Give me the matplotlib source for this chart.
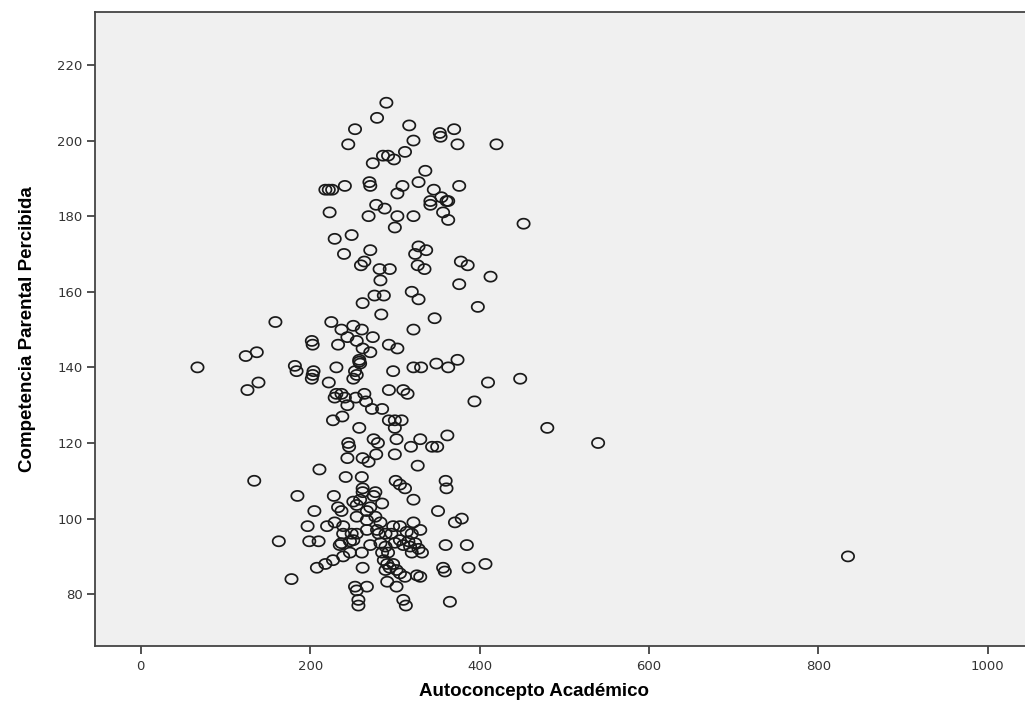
import matplotlib.pyplot as plt
import numpy as np
from matplotlib.path import Path

# Autoconcepto Academico (x) vs Competencia Parental Percibida (y)
autoconcepto = [
    67, 124, 137, 159, 139, 126, 134, 163, 178, 835, 540,
    290, 279, 253, 317, 245, 322, 286, 292, 299, 312, 274, 336,
    218, 222, 226, 241, 270, 271, 309, 303, 328,
    223, 278, 288, 269, 303, 322, 300, 229, 249, 240, 271,
    264, 260, 282, 294, 283,
    328, 337, 324, 327, 335,
    320, 328, 276, 287, 262, 284, 322,
    225, 237, 251, 261, 244, 255, 274, 233, 202, 203, 262, 271, 293, 303, 258, 258,
    353, 354, 370, 374, 420, 376, 346, 342, 342, 355, 361, 363, 357, 363, 452,
    378, 386, 413, 376, 398, 347, 374, 349,
    363, 410, 448, 394, 480, 362, 344, 350, 360, 361, 351, 379, 371,
    360, 385, 407, 387, 357, 359, 365,
    182, 184, 204, 203, 202, 231, 259, 253, 255, 251, 298, 322, 331,
    222, 293, 310, 315, 231, 237, 241, 229, 244, 264, 266, 254, 273, 285,
    227, 238, 258, 293, 300, 308, 300,
    245, 246, 275, 280, 302, 330, 319,
    244, 262, 269, 278, 300, 327, 211, 242, 261, 301, 306, 312,
    185, 228, 262, 262, 277, 275, 322, 205,
    233, 237, 251, 255, 259, 267, 271, 285,
    255, 267, 277, 283,
    197, 220, 229, 239, 239, 249, 255, 267, 279, 281, 289, 296, 298, 306, 322, 314, 320, 330,
    199, 210, 237, 235, 247, 251, 271, 261, 283, 289, 285, 292,
    300, 306, 310, 316, 318, 324, 328, 332, 320,
    227, 218, 208, 239, 247, 262, 287, 291, 294, 298, 302, 289, 306, 312, 326, 330,
    291, 302, 253, 255, 267, 257, 257, 310, 313,
]
competencia = [
    140, 143, 144, 152, 136, 134, 110, 94, 84, 90, 120,
    210, 206, 203, 204, 199, 200, 196, 196, 195, 197, 194, 192,
    187, 187, 187, 188, 189, 188, 188, 186, 189,
    181, 183, 182, 180, 180, 180, 177, 174, 175, 170, 171,
    168, 167, 166, 166, 163,
    172, 171, 170, 167, 166,
    160, 158, 159, 159, 157, 154, 150,
    152, 150, 151, 150, 148, 147, 148, 146, 147, 146, 145, 144, 146, 145, 142, 141.5,
    202, 201, 203, 199, 199, 188, 187, 184, 183, 185, 184, 184, 181, 179, 178,
    168, 167, 164, 162, 156, 153, 142, 141,
    140, 136, 137, 131, 124, 122, 119, 119, 110, 108, 102, 100, 99,
    93, 93, 88, 87, 87, 86, 78,
    140.4, 139, 139, 138, 137, 140, 141, 139, 138, 137, 139, 140, 140,
    136, 134, 134, 133, 133, 133, 132, 132, 130, 133, 131, 132, 129, 129,
    126, 127, 124, 126, 126, 126, 124,
    120, 119, 121, 120, 121, 121, 119,
    116, 116, 115, 117, 117, 114, 113, 111, 111, 110, 109, 108,
    106, 106, 108, 107, 107, 106, 105, 102,
    103, 102, 104.5, 103.6, 105, 102, 103, 104,
    100.5, 99.6, 100.5, 99,
    98, 98, 99, 98, 96, 96, 96, 97, 97, 96, 96, 96, 98, 98, 99, 96.5, 96, 97,
    94, 94, 93.5, 93, 94, 94.3, 93, 91, 93.5, 92.6, 91, 91,
    93.6, 94.3, 93, 94, 92.6, 93.5, 92, 91, 91,
    89, 88, 87, 90, 91, 87, 89, 88, 87, 88, 86.4, 86.4, 85.5, 84.6, 85, 84.6,
    83.3, 82, 82, 81, 82, 78.5, 77, 78.5, 77,
]

x_ticks = [0, 200, 400, 600, 800, 1000]
y_ticks = [80, 100, 120, 140, 160, 180, 200, 220]

# SPSS draws slightly flattened open circles
t = np.linspace(0, 2 * np.pi, 60)
ellipse = Path(np.column_stack([np.cos(t), 0.82 * np.sin(t)]), closed=True)

plt.rcParams['font.family'] = ['DejaVu Sans']

fig = plt.figure(figsize=(10.25, 7.09), dpi=100)
ax = fig.add_axes([95 / 1025, 1 - 646 / 709, 1 - 95 / 1025, (646 - 12) / 709])
ax.set_facecolor('#f0f0f0')

ax.scatter(autoconcepto, competencia, s=78, marker=ellipse, facecolors='none',
           edgecolors='#1a1a1a', linewidths=1.25)

ax.set_xlim(-54, 1044)
ax.set_ylim(66.3, 234)
ax.set_xticks(x_ticks)
ax.set_yticks(y_ticks)
ax.tick_params(direction='out', length=6, width=1.2, color='#333333',
               labelsize=9.5, labelcolor='#333333')
ax.tick_params(axis='x', pad=4)
ax.tick_params(axis='y', pad=3)

for side in ['left', 'bottom', 'top']:
    ax.spines[side].set_color('#444444')
    ax.spines[side].set_linewidth(1.3)
ax.spines['right'].set_visible(False)

label_font = {'family': ['Liberation Sans', 'DejaVu Sans'],
              'weight': 'bold', 'size': 13.5}
ax.set_xlabel('Autoconcepto Académico', fontdict=label_font)
ax.set_ylabel('Competencia Parental Percibida', fontdict=label_font)
ax.xaxis.set_label_coords(0.472, -0.058)
ax.yaxis.set_label_coords(-0.063, 0.5)

fig.savefig('out.png', dpi=100)
